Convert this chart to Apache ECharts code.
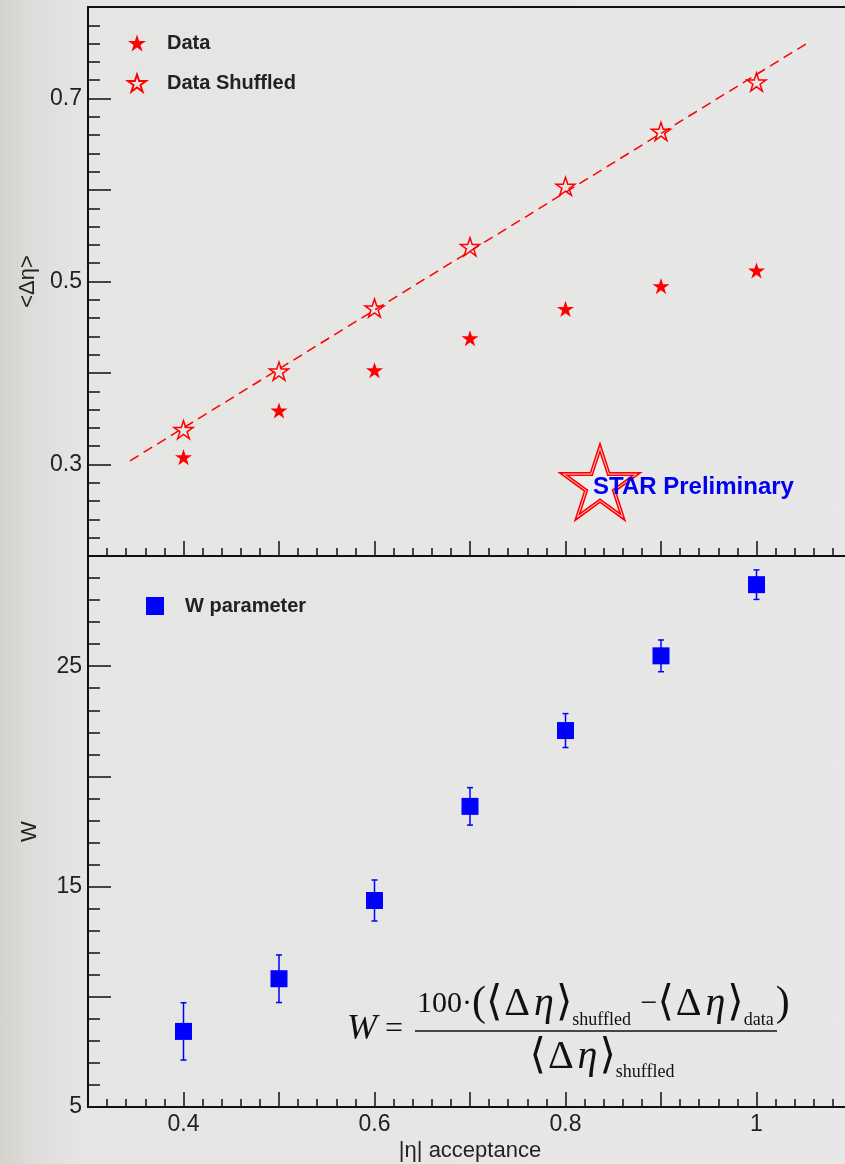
<!DOCTYPE html>
<html>
<head>
<meta charset="utf-8">
<script src="https://cdn.jsdelivr.net/npm/echarts@6/dist/echarts.min.js"></script>
<style>
  html, body { margin: 0; padding: 0; }
  body { background: linear-gradient(to right, #d3d3cd 0px, #dddddb 35px, #e5e5e3 80px, #e7e7e7 100%); }
  #main { width: 845px; height: 1164px; }
</style>
</head>
<body>
<div id="main"></div>
<script>
// |eta| acceptance windows
var acceptance = [0.4, 0.5, 0.6, 0.7, 0.8, 0.9, 1.0];
// <delta eta> for data and shuffled events
var dataMean = [0.308, 0.359, 0.403, 0.438, 0.470, 0.495, 0.512];
var shuffledMean = [0.338, 0.402, 0.471, 0.538, 0.604, 0.664, 0.718];
// ends of the dashed line through the shuffled points
var fitX = [0.344, 1.054];
var fitY = [0.304, 0.761];
// W parameter and its error
var wValue = [8.43, 10.82, 14.37, 18.64, 22.08, 25.47, 28.70];
var wError = [1.30, 1.08, 0.93, 0.85, 0.77, 0.72, 0.67];

var STAR = 'M100 0L122.45 69.1L195.1 69.1L136.33 111.8L158.78 180.9L100 138.2L41.22 180.9L63.67 111.8L4.9 69.1L77.55 69.1Z';
var ink = '#111';
var labelFont = { color: '#222', fontSize: 23, fontFamily: 'Liberation Sans' };
var nameFont = { color: '#222', fontSize: 22, fontFamily: 'Liberation Sans' };

// outline of the STAR logo (decoration)
function starPoints(cx, cy, r) {
  var pts = [];
  for (var k = 0; k < 10; k++) {
    var a = (-90 + k * 36) * Math.PI / 180;
    var rr = k % 2 === 0 ? r : r * 0.382;
    pts.push([cx + rr * Math.cos(a), cy + rr * Math.sin(a)]);
  }
  return pts;
}

function axisBase(extra) {
  var a = {
    type: 'value',
    axisLine: { show: true, onZero: false, lineStyle: { color: ink, width: 2 } },
    splitLine: { show: false },
    minorSplitLine: { show: false }
  };
  for (var k in extra) a[k] = extra[k];
  return a;
}

var chart = echarts.init(document.getElementById('main'));

var option = {
  animation: false,
  backgroundColor: 'transparent',
  grid: [
    { left: 88, top: 7, right: -7, height: 549, show: true, borderColor: ink, borderWidth: 2, backgroundColor: 'transparent', outerBoundsMode: 'none' },
    { left: 88, top: 556, right: -7, height: 551, show: true, borderColor: ink, borderWidth: 2, backgroundColor: 'transparent', outerBoundsMode: 'none' }
  ],
  legend: [
    {
      data: ['Data', 'Data Shuffled'],
      orient: 'vertical', left: 122, top: 28,
      itemWidth: 18, itemHeight: 18, itemGap: 20,
      selectedMode: false,
      textStyle: { color: '#222', fontSize: 20, fontWeight: 'bold', fontFamily: 'Liberation Sans', padding: [0, 0, 0, 16] }
    },
    {
      data: ['W parameter'],
      left: 141, top: 591,
      itemWidth: 18, itemHeight: 18,
      selectedMode: false,
      textStyle: { color: '#222', fontSize: 20, fontWeight: 'bold', fontFamily: 'Liberation Sans', padding: [0, 0, 0, 16] }
    }
  ],
  xAxis: [
    axisBase({
      gridIndex: 0, min: 0.3, max: 1.1, interval: 0.1,
      axisTick: { inside: true, length: 15, lineStyle: { color: ink, width: 1.5 } },
      minorTick: { show: true, splitNumber: 5, length: 8, lineStyle: { color: ink, width: 1.5 } },
      axisLabel: { show: false }
    }),
    axisBase({
      gridIndex: 1, min: 0.3, max: 1.1, interval: 0.1,
      name: '|η| acceptance', nameLocation: 'middle', nameGap: 33, nameTextStyle: nameFont,
      axisTick: { inside: true, length: 15, lineStyle: { color: ink, width: 1.5 } },
      minorTick: { show: true, splitNumber: 5, length: 8, lineStyle: { color: ink, width: 1.5 } },
      axisLabel: Object.assign({
        margin: 6,
        formatter: function (v) {
          var t = Math.round(v * 10);
          return t % 2 === 0 ? String(t / 10) : '';
        }
      }, labelFont)
    })
  ],
  yAxis: [
    axisBase({
      gridIndex: 0, min: 0.2, max: 0.8, interval: 0.1,
      name: '<Δη>', nameLocation: 'middle', nameGap: 44, nameTextStyle: nameFont,
      axisTick: { inside: true, length: 23, lineStyle: { color: ink, width: 1.5 } },
      minorTick: { show: true, splitNumber: 5, length: 12, lineStyle: { color: ink, width: 1.5 } },
      axisLabel: Object.assign({
        margin: 6,
        formatter: function (v) {
          return Math.round(v * 10) % 2 === 1 ? v.toFixed(1) : '';
        }
      }, labelFont)
    }),
    axisBase({
      gridIndex: 1, min: 5, max: 30, interval: 5,
      name: 'W', nameLocation: 'middle', nameGap: 47, nameTextStyle: nameFont,
      axisTick: { inside: true, length: 23, lineStyle: { color: ink, width: 1.5 } },
      minorTick: { show: true, splitNumber: 5, length: 12, lineStyle: { color: ink, width: 1.5 } },
      axisLabel: Object.assign({
        margin: 6,
        formatter: function (v) {
          return Math.round(v) % 10 === 5 ? String(Math.round(v)) : '';
        }
      }, labelFont)
    })
  ],
  series: [
    {
      name: 'fit', type: 'line', xAxisIndex: 0, yAxisIndex: 0,
      data: fitX.map(function (x, i) { return [x, fitY[i]]; }),
      showSymbol: false, silent: true, z: 1,
      lineStyle: { color: '#ff0000', width: 1.5, type: [10, 6] }
    },
    {
      name: 'Data', type: 'scatter', xAxisIndex: 0, yAxisIndex: 0,
      data: acceptance.map(function (x, i) { return [x, dataMean[i]]; }),
      symbol: 'path://' + STAR, symbolSize: 17, symbolKeepAspect: true,
      itemStyle: { color: '#ff0000', opacity: 1 }, z: 3
    },
    {
      name: 'Data Shuffled', type: 'scatter', xAxisIndex: 0, yAxisIndex: 0,
      data: acceptance.map(function (x, i) { return [x, shuffledMean[i]]; }),
      symbol: 'path://' + STAR, symbolSize: 19, symbolKeepAspect: true,
      itemStyle: { color: 'rgba(230,230,230,0)', borderColor: '#ff0000', borderWidth: 1.5, opacity: 1 }, z: 3
    },
    {
      name: 'W error', type: 'custom', xAxisIndex: 1, yAxisIndex: 1,
      data: acceptance.map(function (x, i) { return [x, wValue[i] - wError[i], wValue[i] + wError[i]]; }),
      encode: { x: 0, y: [1, 2] }, silent: true, z: 2,
      renderItem: function (params, api) {
        var lo = api.coord([api.value(0), api.value(1)]);
        var hi = api.coord([api.value(0), api.value(2)]);
        var c = 3;
        var st = { stroke: '#0000ff', lineWidth: 1.5 };
        return {
          type: 'group',
          children: [
            { type: 'line', shape: { x1: lo[0], y1: lo[1], x2: hi[0], y2: hi[1] }, style: st },
            { type: 'line', shape: { x1: lo[0] - c, y1: lo[1], x2: lo[0] + c, y2: lo[1] }, style: st },
            { type: 'line', shape: { x1: hi[0] - c, y1: hi[1], x2: hi[0] + c, y2: hi[1] }, style: st }
          ]
        };
      }
    },
    {
      name: 'W parameter', type: 'scatter', xAxisIndex: 1, yAxisIndex: 1,
      data: acceptance.map(function (x, i) { return [x, wValue[i]]; }),
      symbol: 'rect', symbolSize: 17,
      itemStyle: { color: '#0000ff', opacity: 1 }, z: 3
    }
  ],
  graphic: [
    // STAR logo
    { type: 'polygon', shape: { points: starPoints(600, 486, 38.5) },
      style: { fill: 'rgba(255,255,255,0.3)', stroke: '#ff0000', lineWidth: 4 }, z: 10 },
    { type: 'polygon', shape: { points: starPoints(600, 486, 38.5) },
      style: { fill: 'none', stroke: '#ffd0d0', lineWidth: 1 }, z: 10 },
    { type: 'text', x: 593, y: 487, z: 11,
      style: { text: 'STAR Preliminary', fill: '#0000ee', fontSize: 24, fontWeight: 'bold', fontFamily: 'Liberation Sans', verticalAlign: 'middle' } },
    // W formula
    { type: 'text', x: 347, y: 1030, z: 11,
      style: {
        text: '{w|W}{q| = }', fill: ink, verticalAlign: 'middle',
        rich: {
          w: { fontSize: 36, fontStyle: 'italic', fontFamily: 'Liberation Serif', fill: ink },
          q: { fontSize: 32, fontFamily: 'Liberation Serif', fill: ink }
        }
      } },
    { type: 'line', shape: { x1: 415, y1: 1031, x2: 777, y2: 1031 }, style: { stroke: ink, lineWidth: 1.5 }, z: 11 },
    { type: 'text', x: 417, y: 1004, z: 11,
      style: {
        text: '{n|100·}{p|(}{b|⟨}{d|Δ}{e|η}{b|⟩}{s|shuffled}{n| −}{b|⟨}{d|Δ}{e|η}{b|⟩}{s|data}{p|)}',
        fill: ink, verticalAlign: 'middle',
        rich: {
          n: { fontSize: 30, fontFamily: 'Liberation Serif', fill: ink },
          p: { fontSize: 42, fontFamily: 'Liberation Serif', fill: ink },
          b: { fontSize: 42, fontFamily: 'DejaVu Serif', fill: ink },
          d: { fontSize: 40, fontFamily: 'Liberation Serif', fill: ink, padding: [0, 3, 0, 2] },
          e: { fontSize: 40, fontStyle: 'italic', fontFamily: 'Liberation Serif', fill: ink, padding: [0, 2, 0, 1] },
          s: { fontSize: 18, fontFamily: 'Liberation Serif', fill: ink, padding: [32, 2, 0, 0] }
        }
      } },
    { type: 'text', x: 602, y: 1057, z: 11,
      style: {
        text: '{b|⟨}{d|Δ}{e|η}{b|⟩}{s|shuffled}',
        fill: ink, align: 'center', verticalAlign: 'middle',
        rich: {
          b: { fontSize: 42, fontFamily: 'DejaVu Serif', fill: ink },
          d: { fontSize: 40, fontFamily: 'Liberation Serif', fill: ink, padding: [0, 3, 0, 2] },
          e: { fontSize: 40, fontStyle: 'italic', fontFamily: 'Liberation Serif', fill: ink, padding: [0, 2, 0, 1] },
          s: { fontSize: 18, fontFamily: 'Liberation Serif', fill: ink, padding: [30, 0, 0, 0] }
        }
      } }
  ]
};

chart.setOption(option);
</script>
</body>
</html>
